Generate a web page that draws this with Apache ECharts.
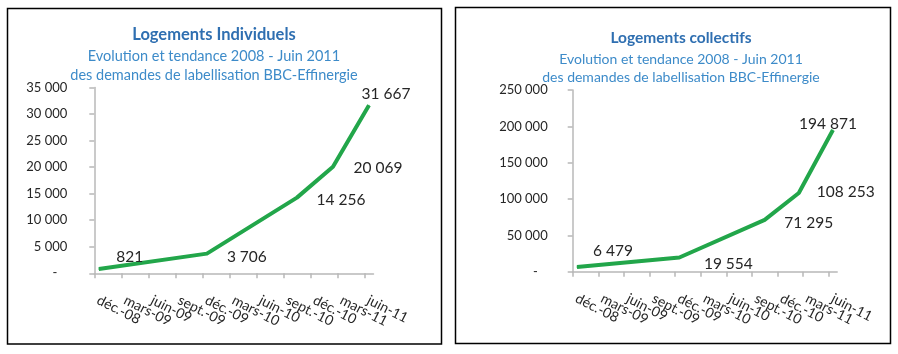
<!DOCTYPE html>
<html>
<head>
<meta charset="utf-8">
<script src="https://cdn.jsdelivr.net/npm/echarts@6/dist/echarts.min.js"></script>
<style>
html,body{margin:0;padding:0;background:#fff;}
#chart{width:898px;height:354px;}
</style>
</head>
<body>
<div id="chart"></div>
<script>
// ---- data ----
const categories = ['déc.-08','mars-09','juin-09','sept.-09','déc.-09','mars-10','juin-10','sept.-10','déc.-10','mars-11','juin-11'];
const startMonth = '2008-12';
const monthsShown = 31;            // déc.-08 .. juin-11 inclusive
const pointDates = ['2008-12','2009-12','2010-10','2011-02','2011-06'];
const individuels = [821, 3706, 14256, 20069, 31667];
const collectifs = [6479, 19554, 71295, 108253, 194871];
const yMaxIndiv = 35000, yStepIndiv = 5000;
const yMaxColl = 250000, yStepColl = 50000;
const titleIndiv = 'Logements Individuels';
const titleColl = 'Logements collectifs';
const subLine1 = 'Evolution et tendance 2008 - Juin 2011';
const subLine2 = 'des demandes de labellisation BBC-Effinergie';

// ---- helpers ----
function monthIndex(s){
  const [y,m] = s.split('-').map(Number);
  const [y0,m0] = startMonth.split('-').map(Number);
  return (y - y0) * 12 + (m - m0);
}
function fmt(v){
  return String(Math.round(v)).replace(/\B(?=(\d{3})+(?!\d))/g, ' ');
}
const FONT = 'Lato, "Open Sans", sans-serif';

// half-month slots along the date axis; a quarter label every 6 slots
const slots = [];
for (let i = 0; i <= monthsShown * 2; i++) {
  slots.push(i % 6 === 0 && categories[i / 6] !== undefined ? categories[i / 6] : '');
}

// label offsets (style only)
const offsIndiv = [[31,-12],[40,3],[44,2],[45,1],[17,-11]];
const offsColl = [[36,-16],[49,7],[44,3],[47,-1],[-5,-6]];

function seriesData(values, offs){
  return values.map((v,i) => ({
    value: [monthIndex(pointDates[i]) * 2 + 1, v],   // middle of the month
    label: { offset: offs[i] }
  }));
}

function xAxisCfg(gi){
  return {
    type: 'category', gridIndex: gi, data: slots, boundaryGap: false,
    splitLine: { show: false },
    axisLine: { show: true, lineStyle: { color: '#b8b8b8', width: 1.5 } },
    axisTick: { show: true, length: 5, interval: (i) => i % 6 === 0, lineStyle: { color: '#b8b8b8', width: 1.5 } },
    axisLabel: {
      interval: 0, hideOverlap: false, padding: [0, 0, 0, 4],
      rotate: -27, margin: 24, fontSize: 14, color: '#262626', fontFamily: FONT
    }
  };
}
function yAxisCfg(gi, max, step, margin){
  return {
    type: 'value', gridIndex: gi, min: 0, max: max, interval: step,
    splitLine: { show: false },
    axisLine: { show: true, lineStyle: { color: '#b8b8b8', width: 1.5 } },
    axisTick: { show: true, length: 5, lineStyle: { color: '#b8b8b8', width: 1.5 } },
    axisLabel: {
      formatter: v => v === 0 ? '-   ' : fmt(v),
      margin: margin, fontSize: 13, color: '#262626', fontFamily: FONT
    }
  };
}
function lineSeries(gi, values, offs){
  return {
    type: 'line', xAxisIndex: gi, yAxisIndex: gi,
    data: seriesData(values, offs),
    symbol: 'circle', symbolSize: 1, showSymbol: true,
    lineStyle: { color: '#22a64a', width: 4, join: 'round' },
    itemStyle: { color: '#22a64a' },
    label: {
      show: true, position: 'inside',
      formatter: p => fmt(p.value[1]),
      fontSize: 15.5, color: '#262626', fontFamily: FONT
    },
    silent: true, animation: false
  };
}
function titleEntry(text, cx, cy, size, bold, color){
  return {
    text: text, left: cx, top: cy - 10, textAlign: 'center', padding: 0,
    textStyle: { fontSize: size, fontWeight: bold ? 'bold' : 'normal', color: color, fontFamily: FONT, lineHeight: 20 }
  };
}

const chart = echarts.init(document.getElementById('chart'));
chart.setOption({
  backgroundColor: '#fff',
  animation: false,
  title: [
    titleEntry(titleIndiv, 214, 35, 16.5, true, '#2f6fb1'),
    titleEntry(subLine1, 214, 56, 14.5, false, '#3d8bc9'),
    titleEntry(subLine2, 214, 75, 14.5, false, '#3d8bc9'),
    titleEntry(titleColl, 681, 38, 15.5, true, '#2f6fb1'),
    titleEntry(subLine1, 681, 59, 14, false, '#3d8bc9'),
    titleEntry(subLine2, 681, 77, 14, false, '#3d8bc9')
  ],
  graphic: [
    { type: 'rect', shape: { x: 7.5, y: 8.5, width: 434, height: 335.5 }, style: { fill: 'none', stroke: '#000', lineWidth: 1.5 }, silent: true },
    { type: 'rect', shape: { x: 455.5, y: 7.5, width: 435, height: 336 }, style: { fill: 'none', stroke: '#000', lineWidth: 1.5 }, silent: true }
  ],
  grid: [
    { left: 94.3, top: 87.5, width: 279.2, height: 185.8 },
    { left: 572.7, top: 90, width: 264.5, height: 181.7 }
  ],
  xAxis: [ xAxisCfg(0), xAxisCfg(1) ],
  yAxis: [ yAxisCfg(0, yMaxIndiv, yStepIndiv, 27), yAxisCfg(1, yMaxColl, yStepColl, 25) ],
  series: [ lineSeries(0, individuels, offsIndiv), lineSeries(1, collectifs, offsColl) ]
});
</script>
</body>
</html>
